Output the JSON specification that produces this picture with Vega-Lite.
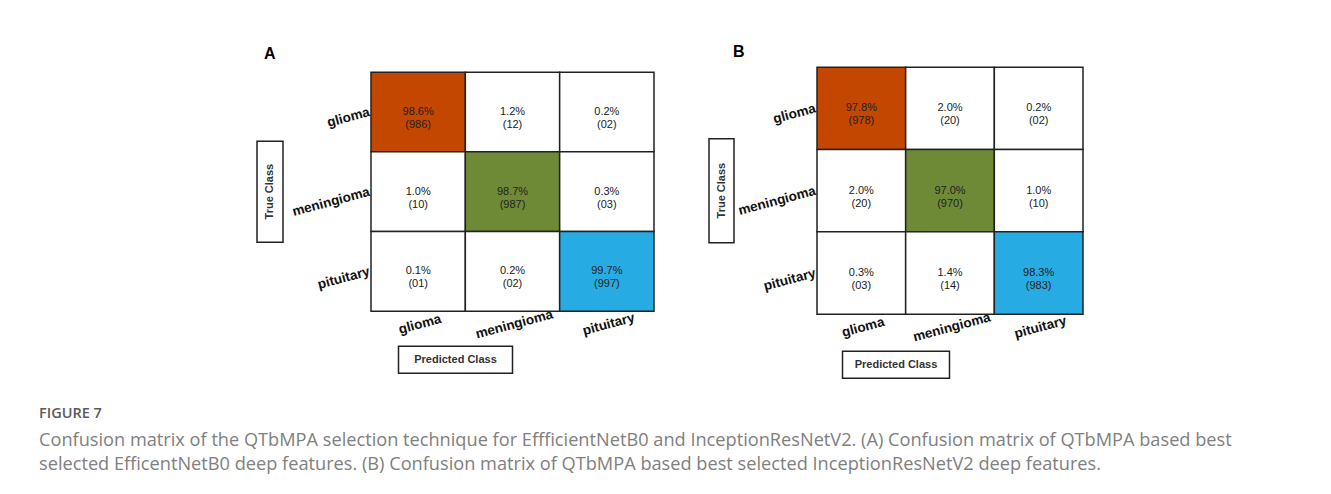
{
  "$schema": "https://vega.github.io/schema/vega-lite/v6.json",
  "background": "white",
  "padding": {"left": 39, "top": 44, "right": 5, "bottom": 5},
  "config": {
    "view": {"stroke": null},
    "axis": {"labelFont": "Liberation Sans", "titleFont": "Liberation Sans"}
  },
  "title": {
    "text": "FIGURE 7",
    "subtitle": [
      "Confusion matrix of the QTbMPA selection technique for EffficientNetB0 and InceptionResNetV2. (A) Confusion matrix of QTbMPA based best",
      "selected EfficentNetB0 deep features. (B) Confusion matrix of QTbMPA based best selected InceptionResNetV2 deep features."
    ],
    "orient": "bottom",
    "anchor": "start",
    "frame": "group",
    "dx": -218,
    "offset": 28,
    "font": "Open Sans",
    "fontSize": 14.5,
    "fontWeight": 600,
    "color": "#5a5a5a",
    "subtitleFont": "Open Sans",
    "subtitleFontSize": 18.2,
    "subtitleColor": "#808080",
    "subtitleLineHeight": 24,
    "subtitlePadding": 11
  },
  "spacing": 53,
  "center": true,
  "hconcat": [
    {
      "title": {"text": "A", "anchor": "start", "frame": "group", "dx": 7, "offset": 9, "font": "Liberation Sans", "fontSize": 16, "fontWeight": "bold", "color": "#000"},
      "columns": 2,
      "align": "each",
      "bounds": "flush",
      "center": true,
      "spacing": {"column": 88, "row": 35},
      "concat": [
        {
          "width": 26, "height": 101,
          "view": {"stroke": "#222", "strokeWidth": 1.5},
          "data": {"values": [{"t": "True Class"}]},
          "mark": {"type": "text", "angle": 270, "font": "Liberation Sans", "fontWeight": "bold", "fontSize": 11, "color": "#333"},
          "encoding": {"text": {"field": "t"}}
        },
        {
          "width": 283, "height": 239,
          "data": {"values": [
            {"actual": "glioma", "pred": "glioma", "label": "98.6%\n(986)"},
            {"actual": "glioma", "pred": "meningioma", "label": "1.2%\n(12)"},
            {"actual": "glioma", "pred": "pituitary", "label": "0.2%\n(02)"},
            {"actual": "meningioma", "pred": "glioma", "label": "1.0%\n(10)"},
            {"actual": "meningioma", "pred": "meningioma", "label": "98.7%\n(987)"},
            {"actual": "meningioma", "pred": "pituitary", "label": "0.3%\n(03)"},
            {"actual": "pituitary", "pred": "glioma", "label": "0.1%\n(01)"},
            {"actual": "pituitary", "pred": "meningioma", "label": "0.2%\n(02)"},
            {"actual": "pituitary", "pred": "pituitary", "label": "99.7%\n(997)"}
          ]},
          "encoding": {
            "x": {"field": "pred", "type": "nominal", "sort": ["glioma", "meningioma", "pituitary"],
              "scale": {"paddingInner": 0, "paddingOuter": 0},
              "axis": {"title": null, "domain": false, "ticks": false, "labelAngle": -15, "labelAlign": "center", "labelBaseline": "top", "labelPadding": 6, "labelFontSize": 13.5, "labelFontWeight": "bold", "labelColor": "#111"}},
            "y": {"field": "actual", "type": "nominal", "sort": ["glioma", "meningioma", "pituitary"],
              "scale": {"paddingInner": 0, "paddingOuter": 0},
              "axis": {"title": null, "domain": false, "ticks": false, "labelAngle": -15, "labelAlign": "right", "labelBaseline": "middle", "labelPadding": 2, "labelFontSize": 13.5, "labelFontWeight": "bold", "labelColor": "#111"}}
          },
          "layer": [
            {
              "mark": {"type": "rect", "stroke": "#222", "strokeWidth": 1.5},
              "encoding": {
                "color": {
                  "condition": {"test": "datum.actual === datum.pred", "field": "actual", "type": "nominal",
                    "scale": {"domain": ["glioma", "meningioma", "pituitary"], "range": ["#C44700", "#6F8A37", "#27ABE3"]}, "legend": null},
                  "value": "white"
                }
              }
            },
            {
              "mark": {"type": "text", "lineBreak": "\n", "font": "Liberation Sans", "fontSize": 11, "lineHeight": 13, "color": "#222"},
              "encoding": {"text": {"field": "label"}}
            }
          ]
        },
        {
          "width": 26, "height": 27,
          "data": {"values": [{"t": ""}]},
          "mark": {"type": "text"},
          "encoding": {"text": {"field": "t"}}
        },
        {
          "width": 114, "height": 27,
          "view": {"stroke": "#222", "strokeWidth": 1.5},
          "data": {"values": [{"t": "Predicted Class"}]},
          "mark": {"type": "text", "font": "Liberation Sans", "fontWeight": "bold", "fontSize": 11, "color": "#333"},
          "encoding": {"text": {"field": "t"}}
        }
      ]
    },
    {
      "title": {"text": "B", "anchor": "start", "frame": "group", "dx": 24, "offset": 6, "font": "Liberation Sans", "fontSize": 16, "fontWeight": "bold", "color": "#000"},
      "columns": 2,
      "align": "each",
      "bounds": "flush",
      "center": true,
      "spacing": {"column": 83, "row": 37},
      "concat": [
        {
          "width": 25, "height": 104,
          "view": {"stroke": "#222", "strokeWidth": 1.5},
          "data": {"values": [{"t": "True Class"}]},
          "mark": {"type": "text", "angle": 270, "font": "Liberation Sans", "fontWeight": "bold", "fontSize": 11, "color": "#333"},
          "encoding": {"text": {"field": "t"}}
        },
        {
          "width": 266, "height": 247,
          "data": {"values": [
            {"actual": "glioma", "pred": "glioma", "label": "97.8%\n(978)"},
            {"actual": "glioma", "pred": "meningioma", "label": "2.0%\n(20)"},
            {"actual": "glioma", "pred": "pituitary", "label": "0.2%\n(02)"},
            {"actual": "meningioma", "pred": "glioma", "label": "2.0%\n(20)"},
            {"actual": "meningioma", "pred": "meningioma", "label": "97.0%\n(970)"},
            {"actual": "meningioma", "pred": "pituitary", "label": "1.0%\n(10)"},
            {"actual": "pituitary", "pred": "glioma", "label": "0.3%\n(03)"},
            {"actual": "pituitary", "pred": "meningioma", "label": "1.4%\n(14)"},
            {"actual": "pituitary", "pred": "pituitary", "label": "98.3%\n(983)"}
          ]},
          "encoding": {
            "x": {"field": "pred", "type": "nominal", "sort": ["glioma", "meningioma", "pituitary"],
              "scale": {"paddingInner": 0, "paddingOuter": 0},
              "axis": {"title": null, "domain": false, "ticks": false, "labelAngle": -15, "labelAlign": "center", "labelBaseline": "top", "labelPadding": 6, "labelFontSize": 13.5, "labelFontWeight": "bold", "labelColor": "#111"}},
            "y": {"field": "actual", "type": "nominal", "sort": ["glioma", "meningioma", "pituitary"],
              "scale": {"paddingInner": 0, "paddingOuter": 0},
              "axis": {"title": null, "domain": false, "ticks": false, "labelAngle": -15, "labelAlign": "right", "labelBaseline": "middle", "labelPadding": 2, "labelFontSize": 13.5, "labelFontWeight": "bold", "labelColor": "#111"}}
          },
          "layer": [
            {
              "mark": {"type": "rect", "stroke": "#222", "strokeWidth": 1.5},
              "encoding": {
                "color": {
                  "condition": {"test": "datum.actual === datum.pred", "field": "actual", "type": "nominal",
                    "scale": {"domain": ["glioma", "meningioma", "pituitary"], "range": ["#C44700", "#6F8A37", "#27ABE3"]}, "legend": null},
                  "value": "white"
                }
              }
            },
            {
              "mark": {"type": "text", "lineBreak": "\n", "font": "Liberation Sans", "fontSize": 11, "lineHeight": 13, "color": "#222"},
              "encoding": {"text": {"field": "label"}}
            }
          ]
        },
        {
          "width": 25, "height": 27,
          "data": {"values": [{"t": ""}]},
          "mark": {"type": "text"},
          "encoding": {"text": {"field": "t"}}
        },
        {
          "width": 107, "height": 27,
          "view": {"stroke": "#222", "strokeWidth": 1.5},
          "data": {"values": [{"t": "Predicted Class"}]},
          "mark": {"type": "text", "font": "Liberation Sans", "fontWeight": "bold", "fontSize": 11, "color": "#333"},
          "encoding": {"text": {"field": "t"}}
        }
      ]
    }
  ]
}
